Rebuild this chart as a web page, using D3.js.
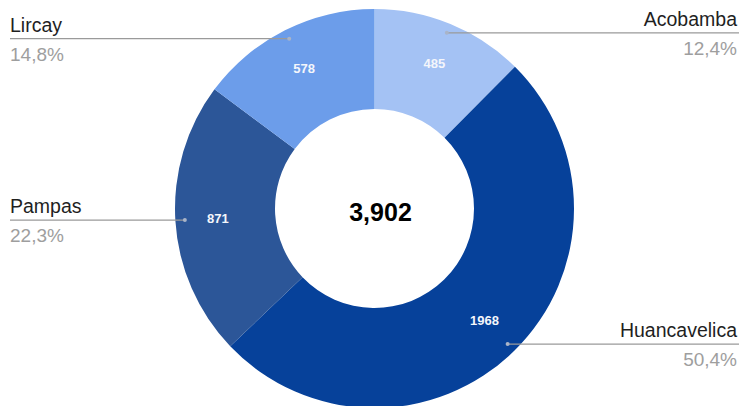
<!DOCTYPE html>
<html>
<head>
<meta charset="utf-8">
<script src="https://cdn.jsdelivr.net/npm/d3@7"></script>
<style>
  html, body { margin: 0; padding: 0; background: #fff; }
  svg { display: block; font-family: "Liberation Sans", Arial, sans-serif; }
</style>
</head>
<body>
<svg id="chart" width="739" height="406"></svg>
<script>
// ---- data ----
const categories = ["Acobamba", "Huancavelica", "Pampas", "Lircay"];
const values = [485, 1968, 871, 578];
const colors = ["#a4c2f4", "#06419a", "#2c5698", "#6c9dea"];

// ---- layout ----
const W = 739, H = 406;
const cx = 374.5, cy = 208.5;
const outerR = 199.5, innerR = 99.5;
const labelR = 157, dotR = 190;

const svg = d3.select("#chart");
const g = svg.append("g").attr("transform", `translate(${cx},${cy})`);

const total = d3.sum(values);
const data = categories.map((c, i) => ({ name: c, value: values[i], color: colors[i] }));

const pie = d3.pie().sort(null).value(d => d.value).startAngle(0).endAngle(2 * Math.PI);
const arcs = pie(data);

const arc = d3.arc().innerRadius(innerR).outerRadius(outerR);
const labelArc = d3.arc().innerRadius(labelR).outerRadius(labelR);
const dotArc = d3.arc().innerRadius(dotR).outerRadius(dotR);

g.selectAll("path.slice").data(arcs).join("path")
  .attr("class", "slice")
  .attr("d", arc)
  .attr("fill", d => d.data.color);

// value labels inside slices
g.selectAll("text.val").data(arcs).join("text")
  .attr("class", "val")
  .attr("transform", d => `translate(${labelArc.centroid(d)})`)
  .attr("text-anchor", "middle")
  .attr("dominant-baseline", "central")
  .attr("fill", "#f4f6fb")
  .attr("font-weight", "bold")
  .attr("font-size", 13)
  .text(d => d.data.value);

// leader lines, dots, outside labels
const fmtPct = v => (v / total * 100).toFixed(1).replace(".", ",") + "%";

arcs.forEach(d => {
  const [dx, dy] = dotArc.centroid(d);
  const px = cx + dx, py = cy + dy;
  const mid = (d.startAngle + d.endAngle) / 2;
  const right = mid < Math.PI;
  const x2 = right ? W : 10;
  svg.append("line")
    .attr("x1", px).attr("y1", py)
    .attr("x2", x2).attr("y2", py)
    .attr("stroke", "#9a9a9a").attr("stroke-width", 1.2);
  svg.append("circle")
    .attr("cx", px).attr("cy", py).attr("r", 2)
    .attr("fill", "#a9b4c8");
  const tx = right ? W - 2 : 10;
  const anchor = right ? "end" : "start";
  svg.append("text")
    .attr("x", tx).attr("y", py - 7)
    .attr("text-anchor", anchor)
    .attr("font-size", 19.5)
    .attr("fill", "#1f1f1f")
    .text(d.data.name);
  svg.append("text")
    .attr("x", tx).attr("y", py + 22)
    .attr("text-anchor", anchor)
    .attr("font-size", 19)
    .attr("fill", "#9e9e9e")
    .text(fmtPct(d.data.value));
});

// center total
svg.append("text")
  .attr("x", cx + 6).attr("y", cy + 12)
  .attr("text-anchor", "middle")
  .attr("font-size", 25)
  .attr("font-weight", "bold")
  .attr("fill", "#000")
  .text(d3.format(",")(total));
</script>
</body>
</html>
